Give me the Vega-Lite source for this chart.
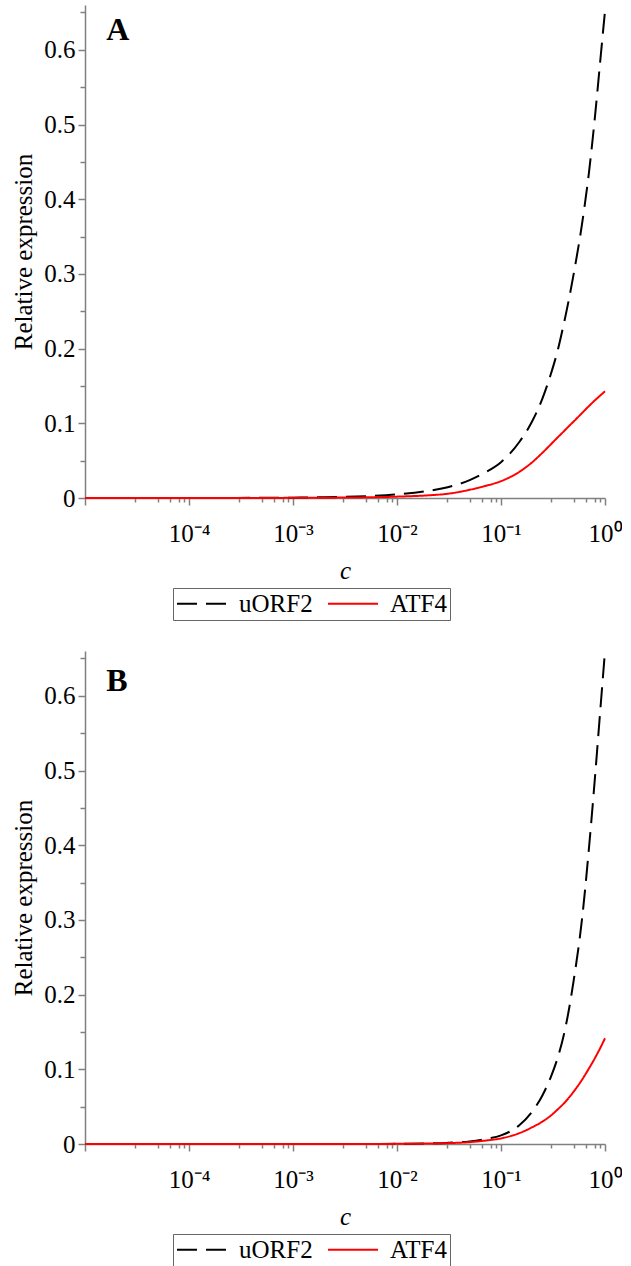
{
  "$schema": "https://vega.github.io/schema/vega-lite/v6.json",
  "background": "white",
  "padding": {"left": 11, "top": 5, "right": 0, "bottom": 0},
  "spacing": 26,
  "resolve": {"legend": {"color": "independent", "strokeDash": "independent"}},
  "config": {
    "view": {"stroke": null},
    "font": "Liberation Serif",
    "axis": {
      "domainColor": "#808080",
      "domainWidth": 1.5,
      "tickColor": "#808080",
      "tickWidth": 1.5,
      "grid": false,
      "labelFontSize": 25,
      "labelColor": "#000000",
      "labelFlush": false,
      "labelOverlap": false,
      "titleFontSize": 25,
      "titleFontWeight": "normal",
      "titleColor": "#000000"
    },
    "legend": {
      "orient": "none",
      "legendX": 88,
      "legendY": 583,
      "direction": "horizontal",
      "strokeColor": "#666666",
      "padding": 3,
      "symbolType": "stroke",
      "symbolSize": 2500,
      "clipHeight": 25,
      "symbolStrokeWidth": 2,
      "labelFont": "Liberation Serif",
      "labelFontSize": 25,
      "labelColor": "#000000",
      "labelOffset": 11,
      "columnPadding": 14
    }
  },
  "datasets": {
    "curves": [
      {"panel": "A", "series": "uORF2", "c": 0.00001, "value": 0.0},
      {"panel": "A", "series": "uORF2", "c": 0.0001, "value": 0.00005},
      {"panel": "A", "series": "uORF2", "c": 0.001, "value": 0.0005},
      {"panel": "A", "series": "uORF2", "c": 0.002, "value": 0.001},
      {"panel": "A", "series": "uORF2", "c": 0.005, "value": 0.0024},
      {"panel": "A", "series": "uORF2", "c": 0.01, "value": 0.0048},
      {"panel": "A", "series": "uORF2", "c": 0.02, "value": 0.0095},
      {"panel": "A", "series": "uORF2", "c": 0.03, "value": 0.014},
      {"panel": "A", "series": "uORF2", "c": 0.05, "value": 0.024},
      {"panel": "A", "series": "uORF2", "c": 0.07, "value": 0.034},
      {"panel": "A", "series": "uORF2", "c": 0.1, "value": 0.048},
      {"panel": "A", "series": "uORF2", "c": 0.15, "value": 0.075},
      {"panel": "A", "series": "uORF2", "c": 0.2, "value": 0.103},
      {"panel": "A", "series": "uORF2", "c": 0.25, "value": 0.133},
      {"panel": "A", "series": "uORF2", "c": 0.3, "value": 0.165},
      {"panel": "A", "series": "uORF2", "c": 0.35, "value": 0.197},
      {"panel": "A", "series": "uORF2", "c": 0.4, "value": 0.232},
      {"panel": "A", "series": "uORF2", "c": 0.45, "value": 0.266},
      {"panel": "A", "series": "uORF2", "c": 0.5, "value": 0.3},
      {"panel": "A", "series": "uORF2", "c": 0.6, "value": 0.366},
      {"panel": "A", "series": "uORF2", "c": 0.7, "value": 0.435},
      {"panel": "A", "series": "uORF2", "c": 0.8, "value": 0.51},
      {"panel": "A", "series": "uORF2", "c": 0.9, "value": 0.585},
      {"panel": "A", "series": "uORF2", "c": 1.0, "value": 0.652},
      {"panel": "A", "series": "ATF4", "c": 0.00001, "value": 0.0},
      {"panel": "A", "series": "ATF4", "c": 0.0001, "value": 0.00002},
      {"panel": "A", "series": "ATF4", "c": 0.001, "value": 0.0002},
      {"panel": "A", "series": "ATF4", "c": 0.002, "value": 0.0004},
      {"panel": "A", "series": "ATF4", "c": 0.005, "value": 0.0009},
      {"panel": "A", "series": "ATF4", "c": 0.01, "value": 0.0018},
      {"panel": "A", "series": "ATF4", "c": 0.02, "value": 0.0036},
      {"panel": "A", "series": "ATF4", "c": 0.03, "value": 0.0055},
      {"panel": "A", "series": "ATF4", "c": 0.05, "value": 0.011},
      {"panel": "A", "series": "ATF4", "c": 0.07, "value": 0.016},
      {"panel": "A", "series": "ATF4", "c": 0.1, "value": 0.0225},
      {"panel": "A", "series": "ATF4", "c": 0.15, "value": 0.035},
      {"panel": "A", "series": "ATF4", "c": 0.2, "value": 0.048},
      {"panel": "A", "series": "ATF4", "c": 0.25, "value": 0.0605},
      {"panel": "A", "series": "ATF4", "c": 0.3, "value": 0.0715},
      {"panel": "A", "series": "ATF4", "c": 0.35, "value": 0.081},
      {"panel": "A", "series": "ATF4", "c": 0.4, "value": 0.089},
      {"panel": "A", "series": "ATF4", "c": 0.45, "value": 0.0962},
      {"panel": "A", "series": "ATF4", "c": 0.5, "value": 0.1025},
      {"panel": "A", "series": "ATF4", "c": 0.6, "value": 0.1136},
      {"panel": "A", "series": "ATF4", "c": 0.7, "value": 0.123},
      {"panel": "A", "series": "ATF4", "c": 0.8, "value": 0.1308},
      {"panel": "A", "series": "ATF4", "c": 0.9, "value": 0.1372},
      {"panel": "A", "series": "ATF4", "c": 1.0, "value": 0.1428},
      {"panel": "B", "series": "uORF2", "c": 0.00001, "value": 0.0},
      {"panel": "B", "series": "uORF2", "c": 0.0001, "value": 0.0},
      {"panel": "B", "series": "uORF2", "c": 0.001, "value": 0.0},
      {"panel": "B", "series": "uORF2", "c": 0.002, "value": 0.00002},
      {"panel": "B", "series": "uORF2", "c": 0.005, "value": 0.0001},
      {"panel": "B", "series": "uORF2", "c": 0.01, "value": 0.0003},
      {"panel": "B", "series": "uORF2", "c": 0.02, "value": 0.0008},
      {"panel": "B", "series": "uORF2", "c": 0.03, "value": 0.0015},
      {"panel": "B", "series": "uORF2", "c": 0.05, "value": 0.0035},
      {"panel": "B", "series": "uORF2", "c": 0.07, "value": 0.0065},
      {"panel": "B", "series": "uORF2", "c": 0.1, "value": 0.0115},
      {"panel": "B", "series": "uORF2", "c": 0.15, "value": 0.025},
      {"panel": "B", "series": "uORF2", "c": 0.2, "value": 0.0435},
      {"panel": "B", "series": "uORF2", "c": 0.25, "value": 0.065},
      {"panel": "B", "series": "uORF2", "c": 0.3, "value": 0.089},
      {"panel": "B", "series": "uORF2", "c": 0.35, "value": 0.115},
      {"panel": "B", "series": "uORF2", "c": 0.4, "value": 0.145},
      {"panel": "B", "series": "uORF2", "c": 0.45, "value": 0.18},
      {"panel": "B", "series": "uORF2", "c": 0.5, "value": 0.219},
      {"panel": "B", "series": "uORF2", "c": 0.6, "value": 0.3},
      {"panel": "B", "series": "uORF2", "c": 0.7, "value": 0.395},
      {"panel": "B", "series": "uORF2", "c": 0.8, "value": 0.49},
      {"panel": "B", "series": "uORF2", "c": 0.9, "value": 0.58},
      {"panel": "B", "series": "uORF2", "c": 1.0, "value": 0.66},
      {"panel": "B", "series": "ATF4", "c": 0.00001, "value": 0.0},
      {"panel": "B", "series": "ATF4", "c": 0.0001, "value": 0.0},
      {"panel": "B", "series": "ATF4", "c": 0.001, "value": 0.0},
      {"panel": "B", "series": "ATF4", "c": 0.002, "value": 0.00001},
      {"panel": "B", "series": "ATF4", "c": 0.005, "value": 0.00005},
      {"panel": "B", "series": "ATF4", "c": 0.01, "value": 0.0002},
      {"panel": "B", "series": "ATF4", "c": 0.02, "value": 0.0006},
      {"panel": "B", "series": "ATF4", "c": 0.03, "value": 0.0011},
      {"panel": "B", "series": "ATF4", "c": 0.05, "value": 0.0025},
      {"panel": "B", "series": "ATF4", "c": 0.07, "value": 0.0045},
      {"panel": "B", "series": "ATF4", "c": 0.1, "value": 0.0075},
      {"panel": "B", "series": "ATF4", "c": 0.15, "value": 0.0145},
      {"panel": "B", "series": "ATF4", "c": 0.2, "value": 0.0225},
      {"panel": "B", "series": "ATF4", "c": 0.25, "value": 0.03},
      {"panel": "B", "series": "ATF4", "c": 0.3, "value": 0.0378},
      {"panel": "B", "series": "ATF4", "c": 0.35, "value": 0.0462},
      {"panel": "B", "series": "ATF4", "c": 0.4, "value": 0.054},
      {"panel": "B", "series": "ATF4", "c": 0.45, "value": 0.062},
      {"panel": "B", "series": "ATF4", "c": 0.5, "value": 0.0702},
      {"panel": "B", "series": "ATF4", "c": 0.6, "value": 0.0858},
      {"panel": "B", "series": "ATF4", "c": 0.7, "value": 0.101},
      {"panel": "B", "series": "ATF4", "c": 0.8, "value": 0.115},
      {"panel": "B", "series": "ATF4", "c": 0.9, "value": 0.1285},
      {"panel": "B", "series": "ATF4", "c": 1.0, "value": 0.1415}
    ]
  },
  "vconcat": [
    {
      "width": 520,
      "height": 493,
      "layer": [
        {
          "data": {"name": "curves"},
          "transform": [{"filter": "datum.panel == 'A'"}],
          "mark": {"type": "line", "interpolate": "monotone", "strokeWidth": 2},
          "encoding": {
            "x": {"field": "c", "type": "quantitative", "scale": {"type": "log", "domain": [0.00001, 1], "nice": false},
              "axis": {"orient": "bottom", "title": "c", "titleFontStyle": "italic", "titlePadding": 12, "values": [0.00001, 0.0001, 0.001, 0.01, 0.1, 1], "tickSize": 7, "labelPadding": 16,
                "labelExpr": "datum.value < 0.00005 ? '' : datum.value < 0.0005 ? '10⁻⁴' : datum.value < 0.005 ? '10⁻³' : datum.value < 0.05 ? '10⁻²' : datum.value < 0.5 ? '10⁻¹' : '10⁰'",
                "encode": {"labels": {"update": {"font": {"value": "Liberation Serif"}}}, "title": {"update": {"font": {"value": "Liberation Serif"}}}}}},
            "y": {"field": "value", "type": "quantitative", "scale": {"domain": [0, 0.66], "nice": false},
              "axis": {"orient": "left", "title": "Relative expression", "titlePadding": 7, "values": [0, 0.1, 0.2, 0.3, 0.4, 0.5, 0.6], "tickSize": 7, "labelPadding": 3,
                "labelExpr": "datum.value == 0 ? '0' : format(datum.value, '.1f')",
                "encode": {"labels": {"update": {"font": {"value": "Liberation Serif"}}}, "title": {"update": {"font": {"value": "Liberation Serif"}}}}}},
            "color": {"field": "series", "type": "nominal", "scale": {"domain": ["uORF2", "ATF4"], "range": ["#000000", "#ff0000"]}, "legend": {"title": null}},
            "strokeDash": {"field": "series", "type": "nominal", "scale": {"domain": ["uORF2", "ATF4"], "range": [[20, 9], [1, 0]]}, "legend": {"title": null}}
          }
        },
        {
          "data": {"name": "curves"},
          "transform": [{"filter": "datum.panel == 'A'"}],
          "mark": {"type": "line", "opacity": 0},
          "encoding": {
            "x": {"field": "c", "type": "quantitative", "axis": {"orient": "bottom", "title": null, "labels": false, "domain": false, "tickSize": 4, "values": [0.00003, 0.00005, 0.000065, 0.00008, 0.00009, 0.0003, 0.0005, 0.00065, 0.0008, 0.0009, 0.003, 0.005, 0.0065, 0.008, 0.009, 0.03, 0.05, 0.065, 0.08, 0.09, 0.3, 0.5, 0.65, 0.8, 0.9]}},
            "y": {"field": "value", "type": "quantitative", "axis": {"orient": "left", "title": null, "labels": false, "domain": false, "tickSize": 5, "values": [0.05, 0.15, 0.25, 0.35, 0.45, 0.55, 0.65]}},
            "detail": {"field": "series", "type": "nominal"}
          }
        },
        {
          "data": {"values": [{"panelLabel": "A"}]},
          "mark": {"type": "text", "font": "Liberation Serif", "fontSize": 32, "fontWeight": "bold", "align": "left", "baseline": "alphabetic", "color": "#000000"},
          "encoding": {
            "x": {"datum": 0.000016, "type": "quantitative", "axis": null},
            "y": {"datum": 0.6125, "type": "quantitative", "axis": null},
            "text": {"field": "panelLabel"}
          }
        }
      ],
      "resolve": {"axis": {"x": "independent", "y": "independent"}}
    },
    {
      "width": 520,
      "height": 493,
      "layer": [
        {
          "data": {"name": "curves"},
          "transform": [{"filter": "datum.panel == 'B'"}],
          "mark": {"type": "line", "interpolate": "monotone", "strokeWidth": 2},
          "encoding": {
            "x": {"field": "c", "type": "quantitative", "scale": {"type": "log", "domain": [0.00001, 1], "nice": false},
              "axis": {"orient": "bottom", "title": "c", "titleFontStyle": "italic", "titlePadding": 12, "values": [0.00001, 0.0001, 0.001, 0.01, 0.1, 1], "tickSize": 7, "labelPadding": 16,
                "labelExpr": "datum.value < 0.00005 ? '' : datum.value < 0.0005 ? '10⁻⁴' : datum.value < 0.005 ? '10⁻³' : datum.value < 0.05 ? '10⁻²' : datum.value < 0.5 ? '10⁻¹' : '10⁰'",
                "encode": {"labels": {"update": {"font": {"value": "Liberation Serif"}}}, "title": {"update": {"font": {"value": "Liberation Serif"}}}}}},
            "y": {"field": "value", "type": "quantitative", "scale": {"domain": [0, 0.66], "nice": false},
              "axis": {"orient": "left", "title": "Relative expression", "titlePadding": 7, "values": [0, 0.1, 0.2, 0.3, 0.4, 0.5, 0.6], "tickSize": 7, "labelPadding": 3,
                "labelExpr": "datum.value == 0 ? '0' : format(datum.value, '.1f')",
                "encode": {"labels": {"update": {"font": {"value": "Liberation Serif"}}}, "title": {"update": {"font": {"value": "Liberation Serif"}}}}}},
            "color": {"field": "series", "type": "nominal", "scale": {"domain": ["uORF2", "ATF4"], "range": ["#000000", "#ff0000"]}, "legend": {"title": null}},
            "strokeDash": {"field": "series", "type": "nominal", "scale": {"domain": ["uORF2", "ATF4"], "range": [[20, 9], [1, 0]]}, "legend": {"title": null}}
          }
        },
        {
          "data": {"name": "curves"},
          "transform": [{"filter": "datum.panel == 'B'"}],
          "mark": {"type": "line", "opacity": 0},
          "encoding": {
            "x": {"field": "c", "type": "quantitative", "axis": {"orient": "bottom", "title": null, "labels": false, "domain": false, "tickSize": 4, "values": [0.00003, 0.00005, 0.000065, 0.00008, 0.00009, 0.0003, 0.0005, 0.00065, 0.0008, 0.0009, 0.003, 0.005, 0.0065, 0.008, 0.009, 0.03, 0.05, 0.065, 0.08, 0.09, 0.3, 0.5, 0.65, 0.8, 0.9]}},
            "y": {"field": "value", "type": "quantitative", "axis": {"orient": "left", "title": null, "labels": false, "domain": false, "tickSize": 5, "values": [0.05, 0.15, 0.25, 0.35, 0.45, 0.55, 0.65]}},
            "detail": {"field": "series", "type": "nominal"}
          }
        },
        {
          "data": {"values": [{"panelLabel": "B"}]},
          "mark": {"type": "text", "font": "Liberation Serif", "fontSize": 32, "fontWeight": "bold", "align": "left", "baseline": "alphabetic", "color": "#000000"},
          "encoding": {
            "x": {"datum": 0.000016, "type": "quantitative", "axis": null},
            "y": {"datum": 0.6065, "type": "quantitative", "axis": null},
            "text": {"field": "panelLabel"}
          }
        }
      ],
      "resolve": {"axis": {"x": "independent", "y": "independent"}}
    }
  ]
}
